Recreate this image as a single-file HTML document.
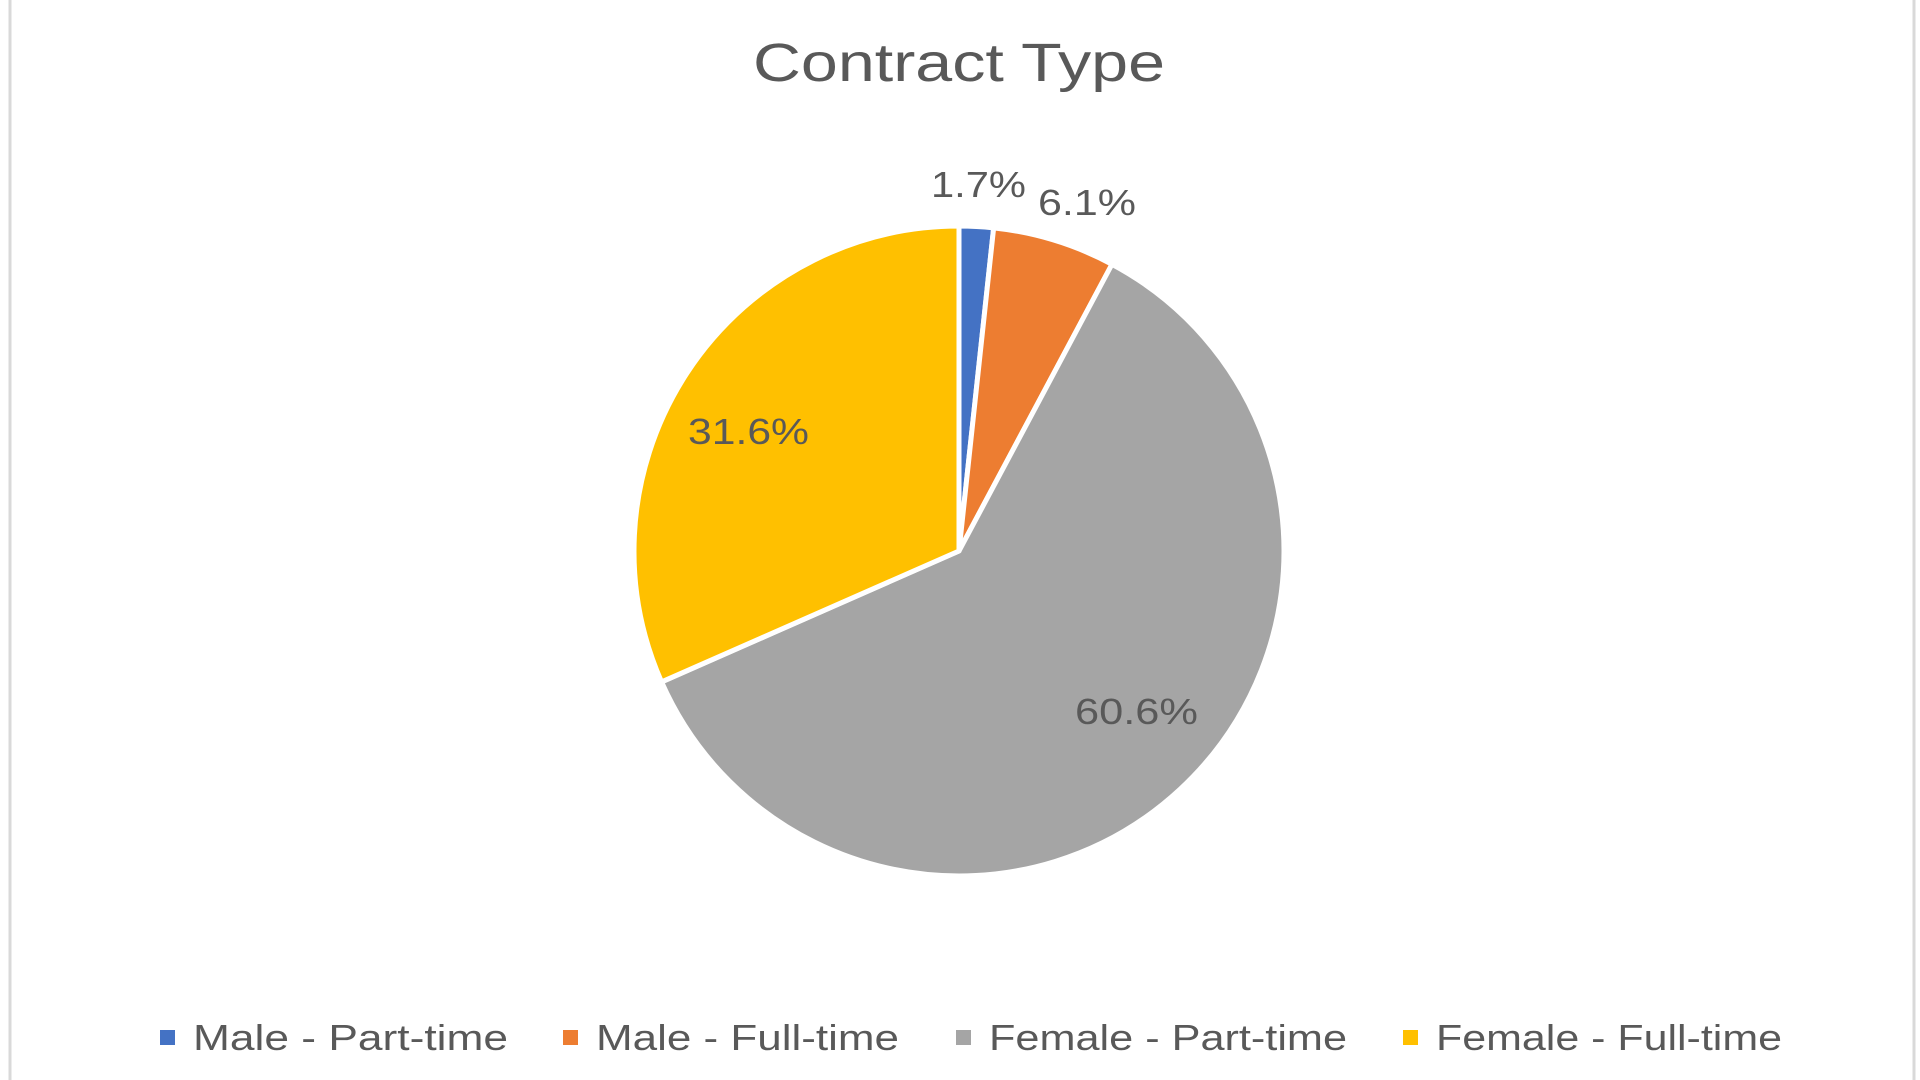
<!DOCTYPE html>
<html><head><meta charset="utf-8"><style>
html,body{margin:0;padding:0;background:#fff;width:1920px;height:1080px;overflow:hidden}
svg{display:block}
text{font-family:"Liberation Sans",sans-serif;fill:#595959}
</style></head><body>
<svg id="s" width="1920" height="1080" viewBox="0 0 1920 1080">
<rect x="0" y="0" width="1920" height="1080" fill="#fff"/>
<line x1="10" y1="0" x2="10" y2="1080" stroke="#d9d9d9" stroke-width="3"/>
<line x1="1914" y1="0" x2="1914" y2="1080" stroke="#d9d9d9" stroke-width="3"/>
<text x="959" y="81" font-size="54" text-anchor="middle" textLength="412" lengthAdjust="spacingAndGlyphs">Contract Type</text>
<g id="pie"></g>
<text x="931" y="197" font-size="36" textLength="95" lengthAdjust="spacingAndGlyphs">1.7%</text>
<text x="1038" y="215" font-size="36" textLength="98" lengthAdjust="spacingAndGlyphs">6.1%</text>
<text x="688" y="444" font-size="36" textLength="121" lengthAdjust="spacingAndGlyphs">31.6%</text>
<text x="1075" y="724" font-size="36" textLength="123" lengthAdjust="spacingAndGlyphs">60.6%</text>
<rect x="160" y="1030" width="15" height="15" fill="#4472C4"/>
<text x="193" y="1050" font-size="36" textLength="315" lengthAdjust="spacingAndGlyphs">Male - Part-time</text>
<rect x="563" y="1030" width="15" height="15" fill="#ED7D31"/>
<text x="596" y="1050" font-size="36" textLength="303" lengthAdjust="spacingAndGlyphs">Male - Full-time</text>
<rect x="956" y="1030" width="15" height="15" fill="#A5A5A5"/>
<text x="989" y="1050" font-size="36" textLength="358" lengthAdjust="spacingAndGlyphs">Female - Part-time</text>
<rect x="1403" y="1030" width="15" height="15" fill="#FFC000"/>
<text x="1436" y="1050" font-size="36" textLength="346" lengthAdjust="spacingAndGlyphs">Female - Full-time</text>
</svg>
<script>
var cx=959,cy=551,r=325,v=[1.7,6.1,60.6,31.6],c=["#4472C4","#ED7D31","#A5A5A5","#FFC000"],a=-Math.PI/2,h="";
for(var i=0;i<4;i++){var b=a+v[i]/100*2*Math.PI;
var x1=cx+r*Math.cos(a),y1=cy+r*Math.sin(a),x2=cx+r*Math.cos(b),y2=cy+r*Math.sin(b);
h+='<path d="M'+cx+','+cy+'L'+x1+','+y1+'A'+r+','+r+' 0 '+((b-a)>Math.PI?1:0)+' 1 '+x2+','+y2+'Z" fill="'+c[i]+'" stroke="#fff" stroke-width="5" stroke-linejoin="round"/>';a=b;}
document.getElementById("pie").innerHTML=h;
</script>
</body></html>
